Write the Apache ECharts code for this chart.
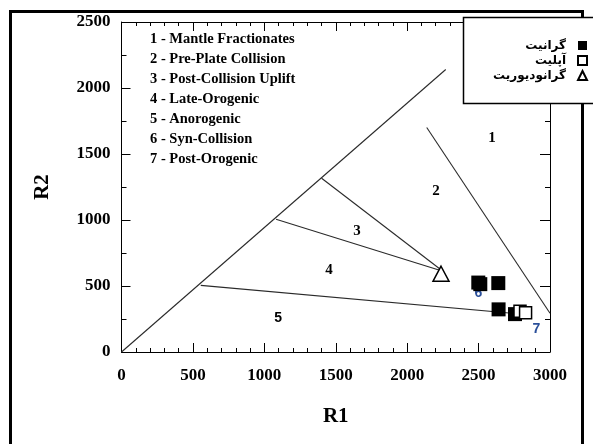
<!DOCTYPE html>
<html>
<head>
<meta charset="utf-8">
<script src="https://cdn.jsdelivr.net/npm/echarts@6/dist/echarts.min.js"></script>
<style>
  html, body { margin: 0; padding: 0; background: #fff; }
  #chart { width: 593px; height: 444px; }
</style>
</head>
<body>
<div id="chart"></div>
<script>
// R1-R2 discrimination diagram for granitoids

// Field boundaries (R1, R2)
const lineDiagonal   = [[0, 0], [2270, 2140]];
const line12         = [[2137, 1701], [3000, 294]];
const line23         = [[1401, 1316], [2250, 612]];
const line34         = [[1082, 1005], [2250, 612]];
const line45         = [[555, 505], [2870, 280]];

// Field numbers placed inside the diagram
const fieldNumbers   = ['1', '2', '3', '4', '5', '6', '7'];
const fieldNumberXY  = [[2594, 1620], [2202, 1217], [1649, 913], [1453, 618], [1097, 256], [2498, 445], [2905, 175]];

// Field names listed in the plot
const fieldNames = [
  '1 - Mantle Fractionates',
  '2 - Pre-Plate Collision',
  '3 - Post-Collision Uplift',
  '4 - Late-Orogenic',
  '5 - Anorogenic',
  '6 - Syn-Collision',
  '7 - Post-Orogenic'
];

// Samples
const rockNames     = ['گرانیت', 'آپلیت', 'گرانودیوریت'];
const graniteR1     = [2498, 2512, 2638, 2640, 2755];
const graniteR2     = [526, 514, 522, 323, 287];
const apliteR1      = [2790, 2829];
const apliteR2      = [308, 297];
const granodioR1    = [2237];
const granodioR2    = [593];

const zip = (a, b) => a.map((v, i) => [v, b[i]]);

const serif = '"Liberation Serif", "DejaVu Serif", serif';
const sans = '"Liberation Sans", Arial, sans-serif';

function boundary(data) {
  return {
    type: 'line', data: data, symbol: 'none', silent: true, z: 2,
    lineStyle: { color: '#2a2a2a', width: 1.1 }
  };
}

const blueNumbers = ['6', '7'];
const sansNumbers = ['5', '6', '7'];

const chart = echarts.init(document.getElementById('chart'));

const tickCommon = {
  axisLine: { show: true, onZero: false, lineStyle: { color: '#000', width: 1 } },
  splitLine: { show: false }
};
const plain = v => String(v);

chart.setOption({
  animation: false,
  backgroundColor: '#fff',
  grid: { left: 121.5, right: 43, top: 22, bottom: 92 },
  xAxis: [
    Object.assign({
      type: 'value', min: 0, max: 3000, interval: 500, position: 'bottom',
      name: 'R1', nameLocation: 'middle', nameGap: 54,
      nameTextStyle: { fontFamily: serif, fontWeight: 'bold', fontSize: 21, color: '#000' },
      axisTick: { show: true, inside: true, length: 9, lineStyle: { color: '#000' } },
      minorTick: { show: true, splitNumber: 5, length: 4, lineStyle: { color: '#000' } },
      axisLabel: { margin: 15, formatter: plain, fontFamily: serif, fontWeight: 'bold', fontSize: 17, color: '#000' }
    }, tickCommon),
    Object.assign({
      type: 'value', min: 0, max: 3000, interval: 500, position: 'top',
      axisTick: { show: true, inside: true, length: 9, lineStyle: { color: '#000' } },
      minorTick: { show: true, splitNumber: 5, length: 4, lineStyle: { color: '#000' } },
      axisLabel: { show: false }
    }, tickCommon)
  ],
  yAxis: [
    Object.assign({
      type: 'value', min: 0, max: 2500, interval: 500, position: 'left',
      name: 'R2', nameLocation: 'middle', nameGap: 68,
      nameTextStyle: { fontFamily: serif, fontWeight: 'bold', fontSize: 21, color: '#000' },
      axisTick: { show: true, inside: true, length: 9, lineStyle: { color: '#000' } },
      minorTick: { show: true, splitNumber: 2, length: 5, lineStyle: { color: '#000' } },
      axisLabel: { margin: 11, formatter: plain, fontFamily: serif, fontWeight: 'bold', fontSize: 17, color: '#000' }
    }, tickCommon),
    Object.assign({
      type: 'value', min: 0, max: 2500, interval: 500, position: 'right',
      axisTick: { show: true, inside: true, length: 10, lineStyle: { color: '#000' } },
      minorTick: { show: true, splitNumber: 2, length: 5, lineStyle: { color: '#000' } },
      axisLabel: { show: false }
    }, tickCommon)
  ],
  legend: {
    orient: 'vertical', right: 5, top: 38, padding: 0,
    itemWidth: 9, itemHeight: 9, itemGap: 0, align: 'right', z: 60,
    selectedMode: false,
    data: [
      { name: rockNames[0], icon: 'rect' },
      { name: rockNames[1], icon: 'rect' },
      { name: rockNames[2], icon: 'triangle' }
    ],
    textStyle: { fontFamily: '"DejaVu Sans", sans-serif', fontSize: 12, lineHeight: 15, fontWeight: 'bold', color: '#000', padding: [0, 7, 0, 0] }
  },
  graphic: [
    // outer frame
    { type: 'rect', z: 30, silent: true,
      shape: { x: 10.5, y: 11.5, width: 572, height: 460 },
      style: { fill: 'none', stroke: '#000', lineWidth: 3 } },
    // legend box
    { type: 'rect', z: 40, silent: true,
      shape: { x: 463.5, y: 17.5, width: 140, height: 86 },
      style: { fill: '#fff', stroke: '#000', lineWidth: 1.5 } }
  ].concat(fieldNames.map((t, i) => ({
    type: 'text', z: 30, silent: true,
    x: 150, y: 39.5 + i * 20,
    style: { text: t, fontFamily: serif, fontWeight: 'bold', fontSize: 14.5, fill: '#000', verticalAlign: 'middle' }
  }))),
  series: [
    boundary(lineDiagonal),
    boundary(line12),
    boundary(line23),
    boundary(line34),
    boundary(line45),
    {
      type: 'scatter', silent: true, z: 3, symbolSize: 1,
      itemStyle: { color: 'rgba(0,0,0,0)', opacity: 1 },
      data: fieldNumberXY.map((p, i) => ({
        value: p,
        label: {
          show: true, position: 'inside', formatter: fieldNumbers[i],
          fontFamily: sansNumbers.includes(fieldNumbers[i]) ? sans : serif,
          fontSize: sansNumbers.includes(fieldNumbers[i]) ? 14 : 15,
          fontWeight: 'bold',
          color: blueNumbers.includes(fieldNumbers[i]) ? '#2a4f9a' : '#000'
        }
      }))
    },
    {
      name: rockNames[0], type: 'scatter', z: 5, symbol: 'rect', symbolSize: 14,
      itemStyle: { color: '#000', opacity: 1 },
      data: zip(graniteR1, graniteR2)
    },
    {
      name: rockNames[1], type: 'scatter', z: 6, symbol: 'rect', symbolSize: 12,
      itemStyle: { color: '#fff', borderColor: '#000', borderWidth: 1.5, opacity: 1 },
      data: zip(apliteR1, apliteR2)
    },
    {
      name: rockNames[2], type: 'scatter', z: 6, symbol: 'triangle', symbolSize: [16, 15],
      itemStyle: { color: '#fff', borderColor: '#000', borderWidth: 1.5, opacity: 1 },
      data: zip(granodioR1, granodioR2)
    }
  ]
});
</script>
</body>
</html>
